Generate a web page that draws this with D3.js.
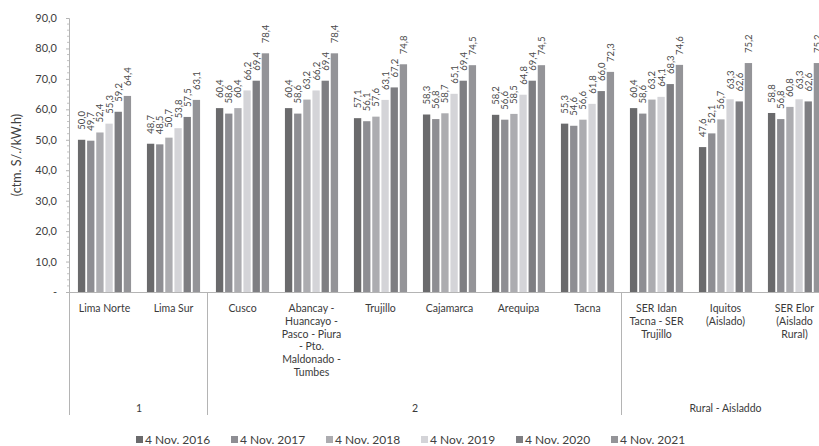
<!DOCTYPE html>
<html>
<head>
<meta charset="utf-8">
<script src="https://cdn.jsdelivr.net/npm/d3@7"></script>
<style>
  body { margin: 0; overflow: hidden; background: #fff; }
  svg { display: block; font-family: Lato, "Open Sans", sans-serif; }
</style>
</head>
<body>
<svg id="chart" width="819" height="446"></svg>
<script>
// Tariff categories (first axis level), each label split into its lines
const categories = ["Lima Norte", "Lima Sur", "Cusco", "Abancay", "Trujillo", "Cajamarca",
                    "Arequipa", "Tacna", "SER Idan", "Iquitos", "SER Elor"];
const categoryLines = [
  ["Lima Norte"], ["Lima Sur"], ["Cusco"],
  ["Abancay -", "Huancayo -", "Pasco - Piura", "- Pto.", "Maldonado -", "Tumbes"],
  ["Trujillo"], ["Cajamarca"], ["Arequipa"], ["Tacna"],
  ["SER Idan", "Tacna - SER", "Trujillo"],
  ["Iquitos", "(Aislado)"],
  ["SER Elor", "(Aislado", "Rural)"]
];
// Second axis level: sector groups and the categories they cover
const sectorNames = ["1", "2", "Rural - Aisladdo"];
const sectorFirst = ["Lima Norte", "Cusco", "SER Idan"];
const sectorLast  = ["Lima Sur", "Tacna", "SER Elor"];

// Series (ctm. S/./kW.h)
const seriesNames = ["4 Nov. 2016", "4 Nov. 2017", "4 Nov. 2018", "4 Nov. 2019", "4 Nov. 2020", "4 Nov. 2021"];
const v2016 = [50.0, 48.7, 60.4, 60.4, 57.1, 58.3, 58.2, 55.3, 60.4, 47.6, 58.8];
const v2017 = [49.7, 48.5, 58.6, 58.6, 56.1, 56.8, 56.6, 54.6, 58.6, 52.1, 56.8];
const v2018 = [52.4, 50.7, 60.4, 63.2, 57.6, 58.7, 58.5, 56.6, 63.2, 56.7, 60.8];
const v2019 = [55.3, 53.8, 66.2, 66.2, 63.1, 65.1, 64.8, 61.8, 64.1, 63.3, 63.3];
const v2020 = [59.2, 57.5, 69.4, 69.4, 67.2, 69.4, 69.4, 66.0, 68.3, 62.6, 62.6];
const v2021 = [64.4, 63.1, 78.4, 78.4, 74.8, 74.5, 74.5, 72.3, 74.6, 75.2, 75.2];
const seriesValues = [v2016, v2017, v2018, v2019, v2020, v2021];
const seriesColors = ["#6a6a6c", "#8e8e93", "#acacb0", "#d4d4d8", "#7e7e82", "#949498"];

const yTicks = [0, 10, 20, 30, 40, 50, 60, 70, 80, 90];

const svg = d3.select("#chart");
const fmt = d => d3.format(".1f")(d).replace(".", ",");

const y = d3.scaleLinear().domain([0, 90]).range([292, 18]);
const x0 = d3.scaleBand().domain(categories).range([70, 829])
  .paddingInner(0.23).paddingOuter(0.115);
const x1 = d3.scaleBand().domain(seriesNames).range([0, x0.bandwidth()]).paddingInner(0.2);
const color = d3.scaleOrdinal().domain(seriesNames).range(seriesColors);

// Y axis
const yAxis = svg.append("g").attr("transform", "translate(69,0)")
  .call(d3.axisLeft(y).tickValues(yTicks).tickSize(3).tickPadding(9)
    .tickFormat(d => d === 0 ? "-" : fmt(d)));
yAxis.select(".domain").attr("stroke", "#b4b4b4");
yAxis.selectAll(".tick line").attr("stroke", "#b4b4b4");
yAxis.selectAll(".tick text").attr("fill", "#404040").style("font-size", "11px")
  .style("font-family", "Lato, 'Open Sans', sans-serif");
// minor ticks
svg.append("g").selectAll("line").data(d3.range(0, 91, 2).filter(d => d % 10 !== 0)).join("line")
  .attr("x1", 67).attr("x2", 69).attr("y1", d => y(d)).attr("y2", d => y(d))
  .attr("stroke", "#c4c4c4");

// Y axis title
svg.append("text").attr("transform", "translate(21,155) rotate(-90)")
  .attr("text-anchor", "middle").attr("fill", "#404040").style("font-size", "12.5px")
  .text("(ctm. S/./kW.h)");

// Bars
const rows = categories.map((c, i) => ({ cat: c, vals: seriesNames.map((s, k) => ({ s, v: seriesValues[k][i] })) }));
const grp = svg.append("g").selectAll("g").data(rows).join("g")
  .attr("transform", d => `translate(${x0(d.cat)},0)`);
grp.selectAll("rect").data(d => d.vals).join("rect")
  .attr("x", d => x1(d.s)).attr("width", x1.bandwidth())
  .attr("y", d => y(d.v)).attr("height", d => y(0) - y(d.v))
  .attr("fill", d => color(d.s));
// Value labels, rotated
grp.selectAll("text").data(d => d.vals).join("text")
  .attr("transform", d => `translate(${x1(d.s) + x1.bandwidth() / 2 + 3.5},${y(d.v) - 10}) rotate(-90)`)
  .attr("fill", "#4a4a4a").style("font-size", "9.5px")
  .text(d => fmt(d.v));

// X axis line
svg.append("line").attr("x1", 69).attr("x2", 829).attr("y1", 292.5).attr("y2", 292.5)
  .attr("stroke", "#b4b4b4");

// Category labels
const step = x0.step();
const labels = svg.append("g").selectAll("text").data(categories).join("text")
  .attr("text-anchor", "middle").attr("fill", "#3a3a3a").style("font-size", "10.5px")
  .attr("x", d => x0(d) + x0.bandwidth() / 2).attr("y", 312);
labels.selectAll("tspan").data((d, i) => categoryLines[i]).join("tspan")
  .attr("x", function () { return this.parentNode.getAttribute("x"); })
  .attr("dy", (d, i) => i === 0 ? 0 : 12.8).text(d => d);

// Sector separators and labels
const boundary = c => x0(c) - x0.paddingInner() * step / 2;
const seps = [70, boundary("Cusco"), boundary("SER Idan")];
svg.append("g").selectAll("line").data(seps).join("line")
  .attr("x1", d => Math.round(d) - 0.5).attr("x2", d => Math.round(d) - 0.5)
  .attr("y1", 292).attr("y2", 415).attr("stroke", "#b4b4b4");
svg.append("g").selectAll("text").data(sectorNames).join("text")
  .attr("text-anchor", "middle").attr("fill", "#3a3a3a").style("font-size", "10.5px")
  .attr("x", (d, i) => (boundary(sectorFirst[i]) + boundary(sectorLast[i]) + step) / 2)
  .attr("y", 412).text(d => d);

// Legend
const legend = svg.append("g").selectAll("g").data(seriesNames).join("g")
  .attr("transform", (d, i) => `translate(${136 + i * 95},440)`);
legend.append("rect").attr("x", 0).attr("y", -4).attr("width", 7).attr("height", 7)
  .attr("fill", d => color(d));
legend.append("text").attr("x", 9).attr("y", 4).attr("fill", "#404040")
  .style("font-size", "12px").text(d => d);
</script>
</body>
</html>
